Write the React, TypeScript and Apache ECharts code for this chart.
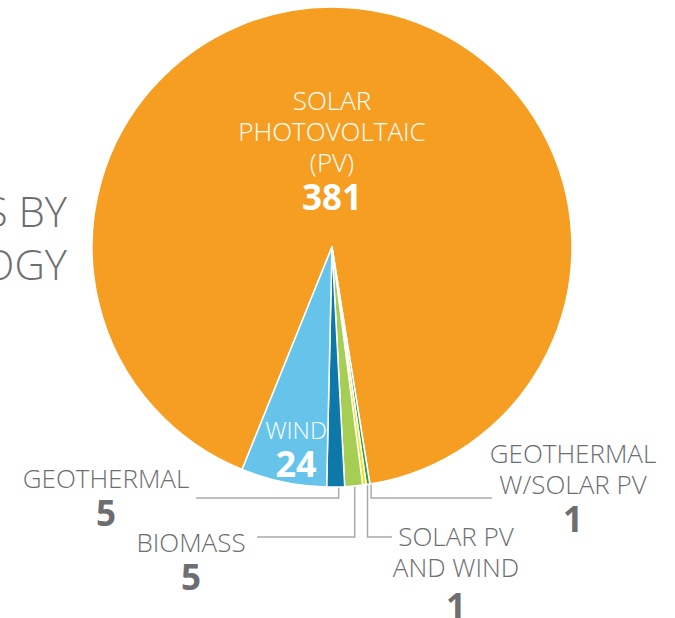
import React, { useEffect, useRef } from "react";
import * as echarts from "echarts";

// ---- data ----
const categories = [
  "SOLAR PHOTOVOLTAIC (PV)",
  "GEOTHERMAL W/SOLAR PV",
  "SOLAR PV AND WIND",
  "BIOMASS",
  "GEOTHERMAL",
  "WIND",
];
const labelTexts = [
  ["SOLAR", "PHOTOVOLTAIC", "(PV)"],
  ["GEOTHERMAL", "W/SOLAR PV"],
  ["SOLAR PV", "AND WIND"],
  ["BIOMASS"],
  ["GEOTHERMAL"],
  ["WIND"],
];
const projectCounts = [381, 1, 1, 5, 5, 24];
const titleLines = ["PROJECTS BY", "TECHNOLOGY"];

// ---- styling / layout ----
const sliceColors = ["#F59E21", "#2E9E48", "#F2E500", "#A6CE55", "#0E78A8", "#66C4EA"];
const GRAY = "#6D6E71";
const LINE_GRAY = "#A7A9AC";
const FONT = "'Open Sans', 'Noto Sans', sans-serif";
const inside = [true, false, false, false, false, true];
// label anchor (center x, top y), leader line y, end x and small horizontal nudge of the elbow
const labelPos = [
  { x: 332, y: 84.5 },
  { x: 573, y: 437, lineY: 498, lineEndX: 492, dx: 3 },
  { x: 456, y: 520.5, lineY: 537, lineEndX: 392, numLH: 45, dx: 3 },
  { x: 191, y: 526, lineY: 537, lineEndX: 257, dx: 1 },
  { x: 106, y: 462, lineY: 498, lineEndX: 196, dx: 3 },
  { x: 296, y: 415 },
];

export default function App() {
  const ref = useRef<HTMLDivElement>(null);
  useEffect(() => {
    document.body.style.margin = "0";
    const chart = echarts.init(ref.current!, null, { renderer: "svg" });
    const data = projectCounts.map((v, i) => {
      const color = inside[i] ? "#FFFFFF" : GRAY;
      const isWind = i === 5;
      const nameSize = isWind ? 24 : 26;
      const nameLH = isWind ? 28 : 31;
      const numLH = (labelPos[i] as any).numLH || (isWind ? 40 : 38);
      const formatter =
        labelTexts[i].map((t) => `{n|${t}}`).join("\n") + `\n{v|${v}}`;
      return {
        name: categories[i],
        value: v,
        itemStyle: { color: sliceColors[i] },
        label: {
          formatter,
          color,
          rich: {
            n: {
              fontFamily: FONT,
              fontSize: nameSize,
              fontWeight: 300,
              lineHeight: nameLH,
              color,
              align: "center",
            },
            v: {
              fontFamily: FONT,
              fontSize: isWind ? 36 : 35,
              fontWeight: "bold",
              lineHeight: numLH,
              color,
              align: "center",
            },
          },
        },
        labelLine: { show: !inside[i] },
      };
    });

    chart.setOption({
      animation: false,
      backgroundColor: "#FFFFFF",
      graphic: [
        {
          type: "text",
          x: 67,
          y: 236.5,
          z: -10,
          style: {
            text: titleLines.join("\n"),
            fontFamily: FONT,
            fontSize: 42,
            fontWeight: 300,
            lineHeight: 53,
            fill: GRAY,
            align: "right",
            verticalAlign: "middle",
          },
        },
      ],
      series: [
        {
          type: "pie",
          center: [332, 247],
          radius: 240,
          startAngle: 248,
          clockwise: true,
          avoidLabelOverlap: false,
          silent: true,
          data,
          itemStyle: { borderColor: "#FFFFFF", borderWidth: 1.5 },
          label: { show: true, position: "outside" },
          labelLine: {
            show: true,
            length: 10,
            length2: 10,
            lineStyle: { color: LINE_GRAY, width: 1.5 },
          },
          labelLayout: (params: any) => {
            const i = params.dataIndex;
            const pos: any = labelPos[i];
            const res: any = {
              x: pos.x,
              y: pos.y,
              align: "center",
              verticalAlign: "top",
            };
            if (pos.lineY != null && params.labelLinePoints) {
              const p0 = params.labelLinePoints[0];
              const ex = p0[0] + (pos.dx || 0);
              res.labelLinePoints = [
                [ex, p0[1] - 2],
                [ex, pos.lineY],
                [pos.lineEndX, pos.lineY],
              ];
            }
            return res;
          },
        },
      ],
    });
    return () => chart.dispose();
  }, []);
  return (
    <div
      ref={ref}
      style={{ position: "absolute", left: 0, top: 0, width: 675, height: 618 }}
    />
  );
}
